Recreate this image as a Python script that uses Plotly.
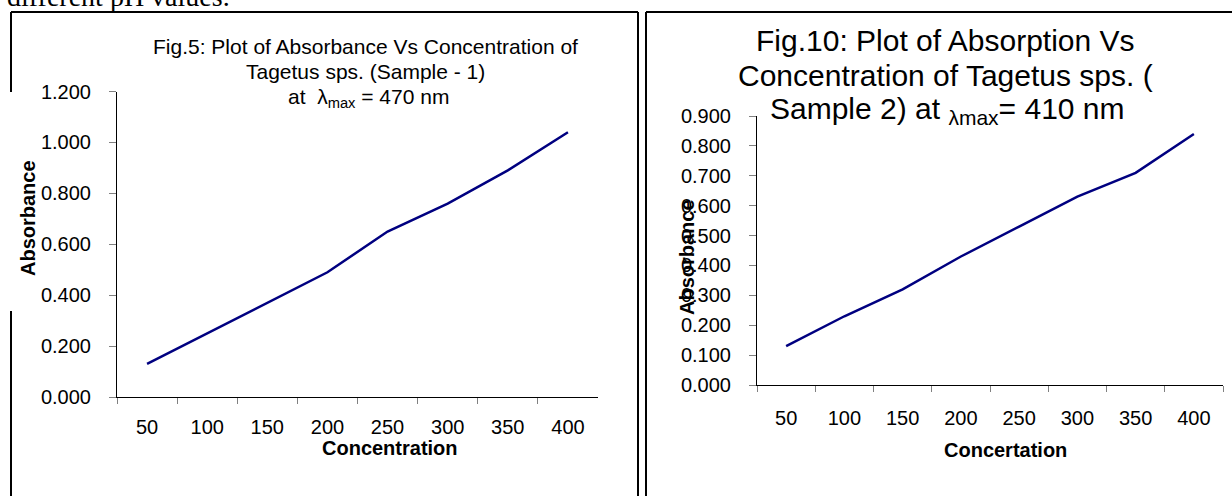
import plotly.graph_objects as go

W, H = 1232, 496

# ---- data ----
concentration = ["50", "100", "150", "200", "250", "300", "350", "400"]
absorbance_s1 = [0.13, 0.25, 0.37, 0.49, 0.65, 0.76, 0.89, 1.04]
absorbance_s2 = [0.13, 0.23, 0.32, 0.43, 0.53, 0.63, 0.71, 0.84]
y1_ticks = [0.0, 0.2, 0.4, 0.6, 0.8, 1.0, 1.2]
y2_ticks = [0.0, 0.1, 0.2, 0.3, 0.4, 0.5, 0.6, 0.7, 0.8, 0.9]

FONT = "Liberation Sans, Arial, sans-serif"
NAVY = "#000080"


def px(x):
    return x / W


def py(y):
    return 1 - y / H


fig = go.Figure()
fig.add_trace(go.Scatter(x=concentration, y=absorbance_s1, mode="lines",
                         line=dict(color=NAVY, width=2.5), xaxis="x", yaxis="y",
                         showlegend=False, hoverinfo="x+y"))
fig.add_trace(go.Scatter(x=concentration, y=absorbance_s2, mode="lines",
                         line=dict(color=NAVY, width=2.5), xaxis="x2", yaxis="y2",
                         showlegend=False, hoverinfo="x+y"))

xcommon = dict(type="category", range=[-0.5, 7.5], showline=True, linecolor="black",
               linewidth=1, ticks="outside", tickson="boundaries", ticklen=6,
               tickcolor="#808080", tickfont=dict(family=FONT, size=20, color="black"),
               showgrid=False, zeroline=False,
               automargin=False, fixedrange=True)
ycommon = dict(showline=True, linecolor="black", linewidth=1, ticks="outside",
               ticklen=7, tickcolor="#808080", tickformat=".3f",
               tickfont=dict(family=FONT, size=20, color="black"),
               showgrid=False, zeroline=False, ticklabelstandoff=14,
               automargin=False, fixedrange=True)

fig.update_layout(
    width=W, height=H, margin=dict(l=0, r=0, t=0, b=0, autoexpand=False),
    paper_bgcolor="white", plot_bgcolor="white",
    xaxis=dict(xcommon, domain=[px(117), px(598)], anchor="y", ticklabelstandoff=12),
    yaxis=dict(ycommon, domain=[py(397), py(91.5)], range=[0, 1.2],
               tickvals=y1_ticks, anchor="x"),
    xaxis2=dict(xcommon, domain=[px(757), px(1223)], anchor="y2", ticklabelstandoff=15),
    yaxis2=dict(ycommon, domain=[py(385), py(116)], range=[0, 0.9],
                tickvals=y2_ticks, anchor="x2"),
)

ann = []


def text(x, y, s, size, bold=False, angle=0, xanchor="center", family=FONT):
    ann.append(dict(xref="paper", yref="paper", x=px(x), y=py(y), text=s,
                    showarrow=False, xanchor=xanchor, yanchor="middle",
                    textangle=angle, borderpad=0,
                    font=dict(family=family, size=size, color="black",
                              weight="bold" if bold else "normal")))


# page text above the boxes (cut off at the top edge)
text(6, -3, "different pH values.", 28, xanchor="left",
     family="Liberation Serif, Times New Roman, serif")

# chart 1 title
text(366, 47, "Fig.5: Plot of Absorbance Vs Concentration of", 21)
text(366, 72, "Tagetus sps. (Sample - 1)", 21)
text(368, 98, "at  λ<sub>max</sub> = 470 nm", 21)
# chart 1 axis titles
text(390, 448, "Concentration", 20, bold=True)
text(28, 218, "Absorbance", 20, bold=True, angle=-90)

# chart 2 title
text(945, 40, "Fig.10: Plot of Absorption Vs", 30)
text(945, 75, "Concentration of Tagetus sps. (", 30)
text(947, 111, "Sample 2) at <sub>λmax</sub>= 410 nm", 30)
# chart 2 axis titles
text(1005, 450, "Concertation", 20, bold=True)
text(687, 257, "Absorbance", 20, bold=True, angle=-90)

fig.update_layout(annotations=ann)

# document frame lines
frame = [
    (11, 12, 638, 12), (11, 12, 11, 92), (11, 311, 11, 496), (638, 12, 638, 496),
    (646, 12, 1232, 12), (646, 12, 646, 496),
]
fig.update_layout(shapes=[dict(type="line", xref="paper", yref="paper",
                               x0=px(a), y0=py(b), x1=px(c), y1=py(d),
                               line=dict(color="black", width=2)) for a, b, c, d in frame])

fig.write_html("out.html", config={"displayModeBar": False},
               post_script="document.body.style.margin='0';")
